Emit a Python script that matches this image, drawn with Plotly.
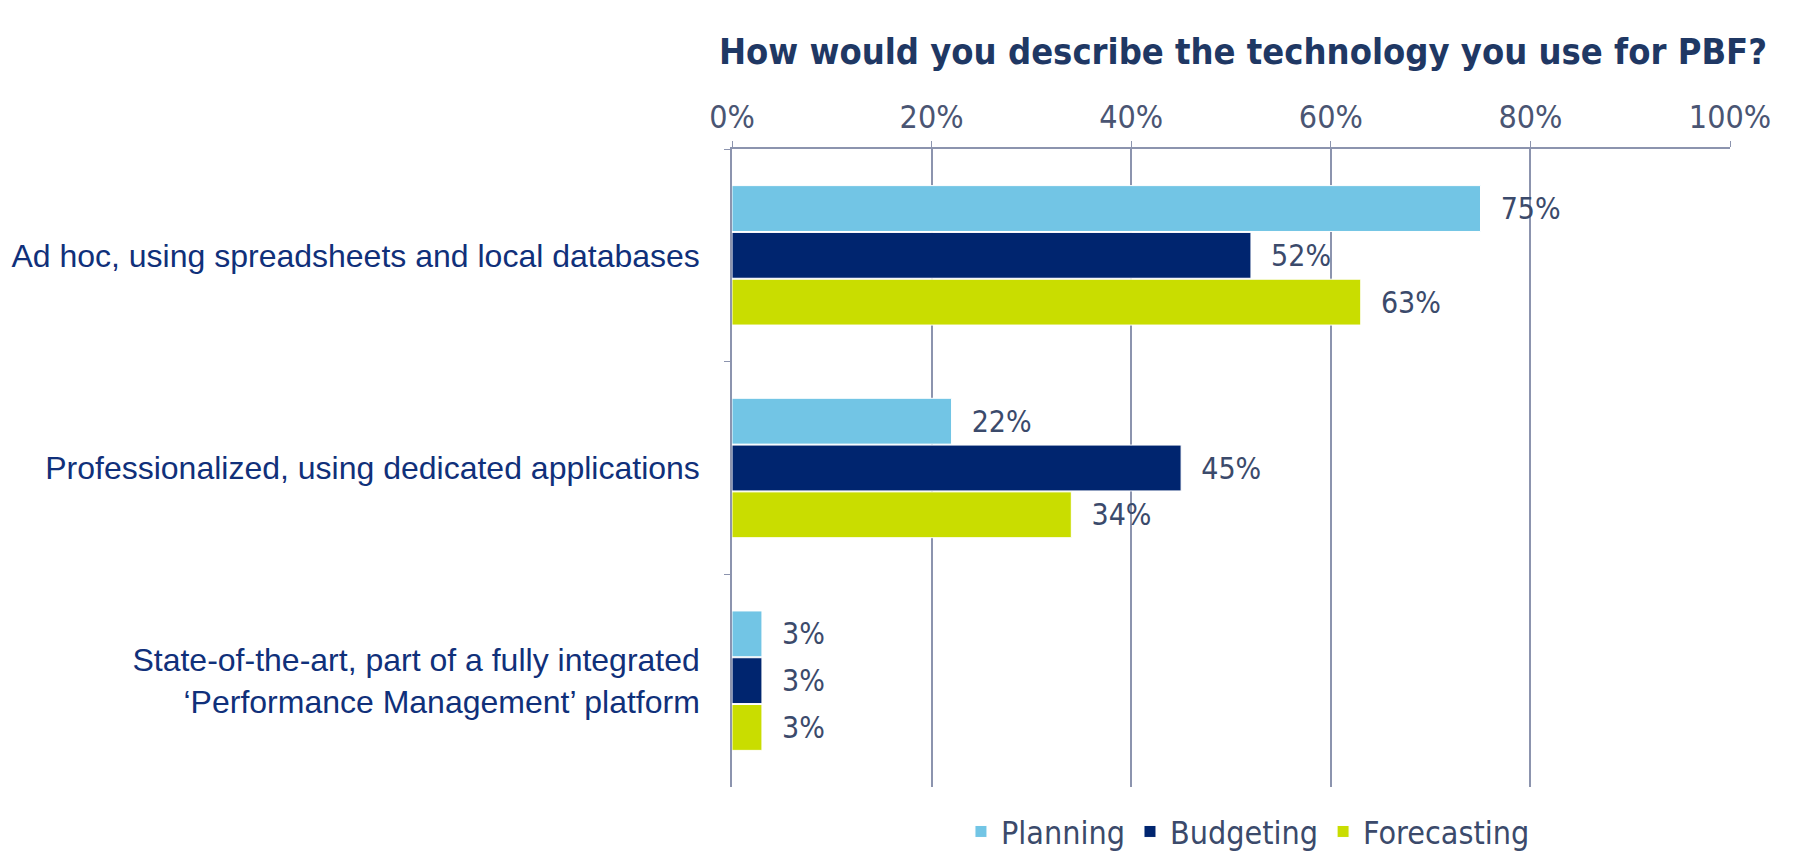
import plotly.graph_objects as go

# Survey answers: technology used for planning, budgeting and forecasting (PBF)
categories = [
    "Ad hoc, using spreadsheets and local databases",
    "Professionalized, using dedicated applications",
    "State-of-the-art, part of a fully integrated<br>\u2018Performance Management\u2019 platform",
]
series_names = ["Planning", "Budgeting", "Forecasting"]
planning = [75, 22, 3]
budgeting = [52, 45, 3]
forecasting = [63, 34, 3]
x_ticks = [0, 20, 40, 60, 80, 100]

colors = ["#72C5E5", "#00256F", "#C9DD00"]
narrow = "Liberation Sans Narrow, Arial Narrow, DejaVu Sans Condensed, sans-serif"
grid_col = "#8C94AE"

fig = go.Figure()
for name, vals, col in zip(series_names, [planning, budgeting, forecasting], colors):
    fig.add_trace(go.Bar(
        name=name,
        y=categories,
        x=vals,
        orientation="h",
        marker=dict(color=col, line=dict(color="white", width=1)),
        text=[f"{v}%" for v in vals],
        texttemplate="  %{text}",
        textposition="outside",
        cliponaxis=False,
        textfont=dict(family=narrow, size=30, color="#3B4A6B"),
    ))

fig.update_layout(
    width=1793,
    height=854,
    margin=dict(l=732, r=63, t=149, b=67, autoexpand=False),
    paper_bgcolor="white",
    plot_bgcolor="white",
    barmode="group",
    bargap=0.34,
    bargroupgap=0.02,
    title=dict(
        text="<b>How would you describe the technology you use for PBF?</b>",
        font=dict(family=narrow, size=36, color="#1F3864"),
        x=0.512, xref="paper", xanchor="center",
        y=1 - 51 / 854, yref="container", yanchor="middle",
    ),
    xaxis=dict(
        side="top",
        range=[0, 100],
        tickvals=x_ticks,
        ticktext=[f"{t}%" for t in x_ticks],
        showgrid=True,
        gridcolor=grid_col,
        gridwidth=1.5,
        showline=True,
        linecolor=grid_col,
        linewidth=1.5,
        ticks="outside",
        ticklen=6,
        tickcolor=grid_col,
        tickfont=dict(family=narrow, size=32, color="#4A5573"),
        zeroline=False,
        fixedrange=True,
    ),
    yaxis=dict(
        autorange="reversed",
        showline=True,
        linecolor=grid_col,
        linewidth=1.5,
        ticks="outside",
        ticklen=6,
        tickcolor=grid_col,
        tickson="boundaries",
        showgrid=False,
        tickfont=dict(family="Liberation Sans, Arial, sans-serif", size=32, color="#10307A"),
        ticklabelstandoff=24,
        fixedrange=True,
    ),
    legend=dict(
        orientation="h",
        x=0.517, xanchor="center",
        y=-0.07, yanchor="middle",
        font=dict(family=narrow, size=32, color="#3B4A6B"),
        traceorder="normal",
        itemwidth=30,
    ),
)

fig.write_html("out.html")
